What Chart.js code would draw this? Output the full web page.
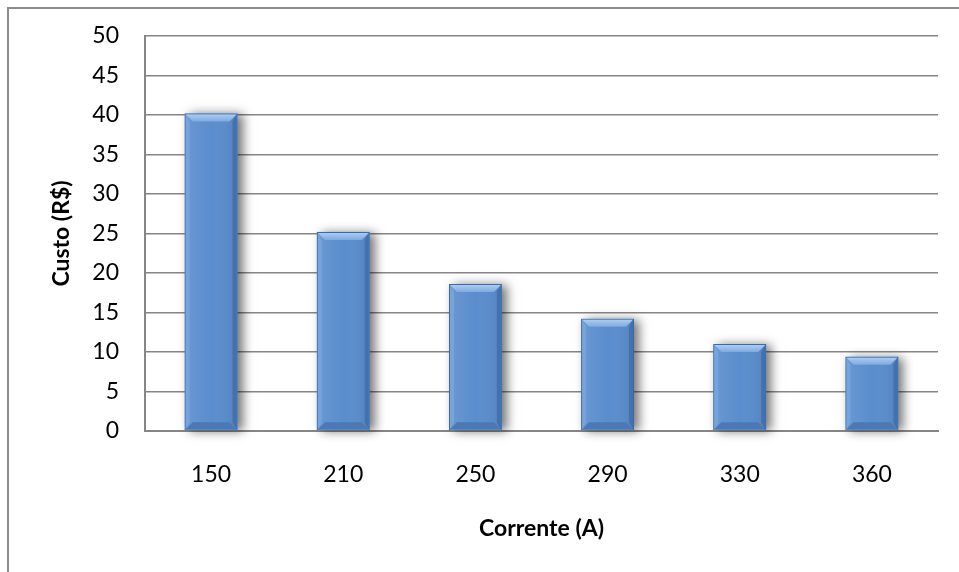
<!DOCTYPE html>
<html>
<head>
<meta charset="utf-8">
<script src="https://cdn.jsdelivr.net/npm/chart.js@4.4.1/dist/chart.umd.min.js"></script>
<style>
  html, body { margin: 0; padding: 0; background: #fff; }
  #wrap { position: relative; width: 959px; height: 572px; }
</style>
</head>
<body>
<div id="wrap"><canvas id="chart" width="959" height="572"></canvas></div>
<script>
// Data
const categories = ["150", "210", "250", "290", "330", "360"];
const custo = [40.2, 25.2, 18.6, 14.2, 11.0, 9.4];
const yTicks = [0, 5, 10, 15, 20, 25, 30, 35, 40, 45, 50];

const FONT = "Lato, 'Open Sans', sans-serif";

// Gray frame on the left and top edge, like the original chart box
const framePlugin = {
    id: "frame",
    beforeDraw(chart) {
        const ctx = chart.ctx;
        ctx.save();
        ctx.strokeStyle = "#8c8c8c";
        ctx.lineWidth = 2;
        ctx.beginPath();
        ctx.moveTo(8, 572);
        ctx.lineTo(8, 8);
        ctx.lineTo(959, 8);
        ctx.stroke();
        ctx.restore();
    },
};

function barBox(bar) {
    const { x, y, base, width } = bar.getProps(["x", "y", "base", "width"], true);
    return { l: x - width / 2, r: x + width / 2, y, base };
}

// Drop shadow behind the bars, then a bevel on top of them
const bevelPlugin = {
    id: "barBevel",
    beforeDatasetsDraw(chart) {
        const ctx = chart.ctx;
        chart.getDatasetMeta(0).data.forEach((bar) => {
            const { l, r, y, base } = barBox(bar);
            ctx.save();
            ctx.shadowColor = "rgba(0, 0, 0, 0.55)";
            ctx.shadowBlur = 10;
            ctx.shadowOffsetX = 5;
            ctx.shadowOffsetY = 1;
            ctx.fillStyle = "#5a8dcd";
            ctx.fillRect(l, y, r - l, base - y);
            ctx.restore();
        });
    },
    afterDatasetsDraw(chart) {
        const ctx = chart.ctx;
        chart.getDatasetMeta(0).data.forEach((bar) => {
            const { l, r, y, base } = barBox(bar);
            const b = 8;
            ctx.save();
            // body shading, light on the left, darker on the right
            let h = ctx.createLinearGradient(l, 0, r, 0);
            h.addColorStop(0, "rgba(255,255,255,0.10)");
            h.addColorStop(0.5, "rgba(255,255,255,0)");
            h.addColorStop(1, "rgba(0,0,40,0.10)");
            ctx.fillStyle = h;
            ctx.fillRect(l + 1, y + 1, r - l - 2, base - y - 2);
            // top bevel
            let g = ctx.createLinearGradient(0, y, 0, y + b);
            g.addColorStop(0, "#b3d0f2");
            g.addColorStop(1, "#7eaae0");
            ctx.fillStyle = g;
            ctx.beginPath();
            ctx.moveTo(l + 1, y + 1);
            ctx.lineTo(r - 1, y + 1);
            ctx.lineTo(r - b, y + b);
            ctx.lineTo(l + b, y + b);
            ctx.closePath();
            ctx.fill();
            // bottom bevel
            ctx.fillStyle = "#4a79b6";
            ctx.beginPath();
            ctx.moveTo(l + 1, base - 1);
            ctx.lineTo(r - 1, base - 1);
            ctx.lineTo(r - b, base - b);
            ctx.lineTo(l + b, base - b);
            ctx.closePath();
            ctx.fill();
            // left bevel
            ctx.fillStyle = "rgba(130, 172, 226, 0.6)";
            ctx.beginPath();
            ctx.moveTo(l + 1, y + 1);
            ctx.lineTo(l + b - 3, y + b);
            ctx.lineTo(l + b - 3, base - b);
            ctx.lineTo(l + 1, base - 1);
            ctx.closePath();
            ctx.fill();
            // right bevel
            ctx.fillStyle = "rgba(45, 85, 145, 0.4)";
            ctx.beginPath();
            ctx.moveTo(r - 1, y + 1);
            ctx.lineTo(r - b + 3, y + b);
            ctx.lineTo(r - b + 3, base - b);
            ctx.lineTo(r - 1, base - 1);
            ctx.closePath();
            ctx.fill();
            ctx.restore();
        });
    },
};

const ctx = document.getElementById("chart");

new Chart(ctx, {
    type: "bar",
    data: {
        labels: categories,
        datasets: [{
            label: "Custo (R$)",
            data: custo,
            backgroundColor: "#5a8dcd",
            borderColor: "#3c6aa5",
            borderWidth: 1,
            categoryPercentage: 1.0,
            barPercentage: 0.4,
        }],
    },
    options: {
        responsive: false,
        animation: false,
        events: [],
        layout: { padding: { left: 0, top: 36, right: 21, bottom: 0 } },
        plugins: {
            legend: { display: false },
            tooltip: { enabled: false },
        },
        scales: {
            x: {
                grid: { display: false, drawTicks: false },
                border: { display: true, color: "#868686", width: 2 },
                ticks: {
                    color: "#000",
                    padding: 30,
                    font: { family: FONT, size: 23 },
                },
                title: {
                    display: true,
                    text: "Corrente (A)",
                    color: "#000",
                    font: { family: FONT, size: 23, weight: "bold" },
                    padding: { top: 0, bottom: 30 },
                },
                afterFit: (scale) => {
                    scale.height = 572 - 431;
                    scale.paddingLeft = 0;
                    scale.paddingRight = 0;
                },
            },
            y: {
                min: 0,
                max: 50,
                afterBuildTicks: (scale) => {
                    scale.ticks = yTicks.map((v) => ({ value: v }));
                },
                grid: { color: "#868686", lineWidth: 1.5, drawTicks: false },
                border: { display: true, color: "#868686", width: 2 },
                ticks: {
                    color: "#000",
                    padding: 26,
                    font: { family: FONT, size: 23 },
                },
                title: {
                    display: true,
                    text: "Custo (R$)",
                    color: "#000",
                    font: { family: FONT, size: 23, weight: "bold" },
                    padding: { top: 48, bottom: 0 },
                },
                afterFit: (scale) => {
                    scale.width = 145;
                    scale.paddingTop = 0;
                    scale.paddingBottom = 0;
                },
            },
        },
    },
    plugins: [framePlugin, bevelPlugin],
});
</script>
</body>
</html>
